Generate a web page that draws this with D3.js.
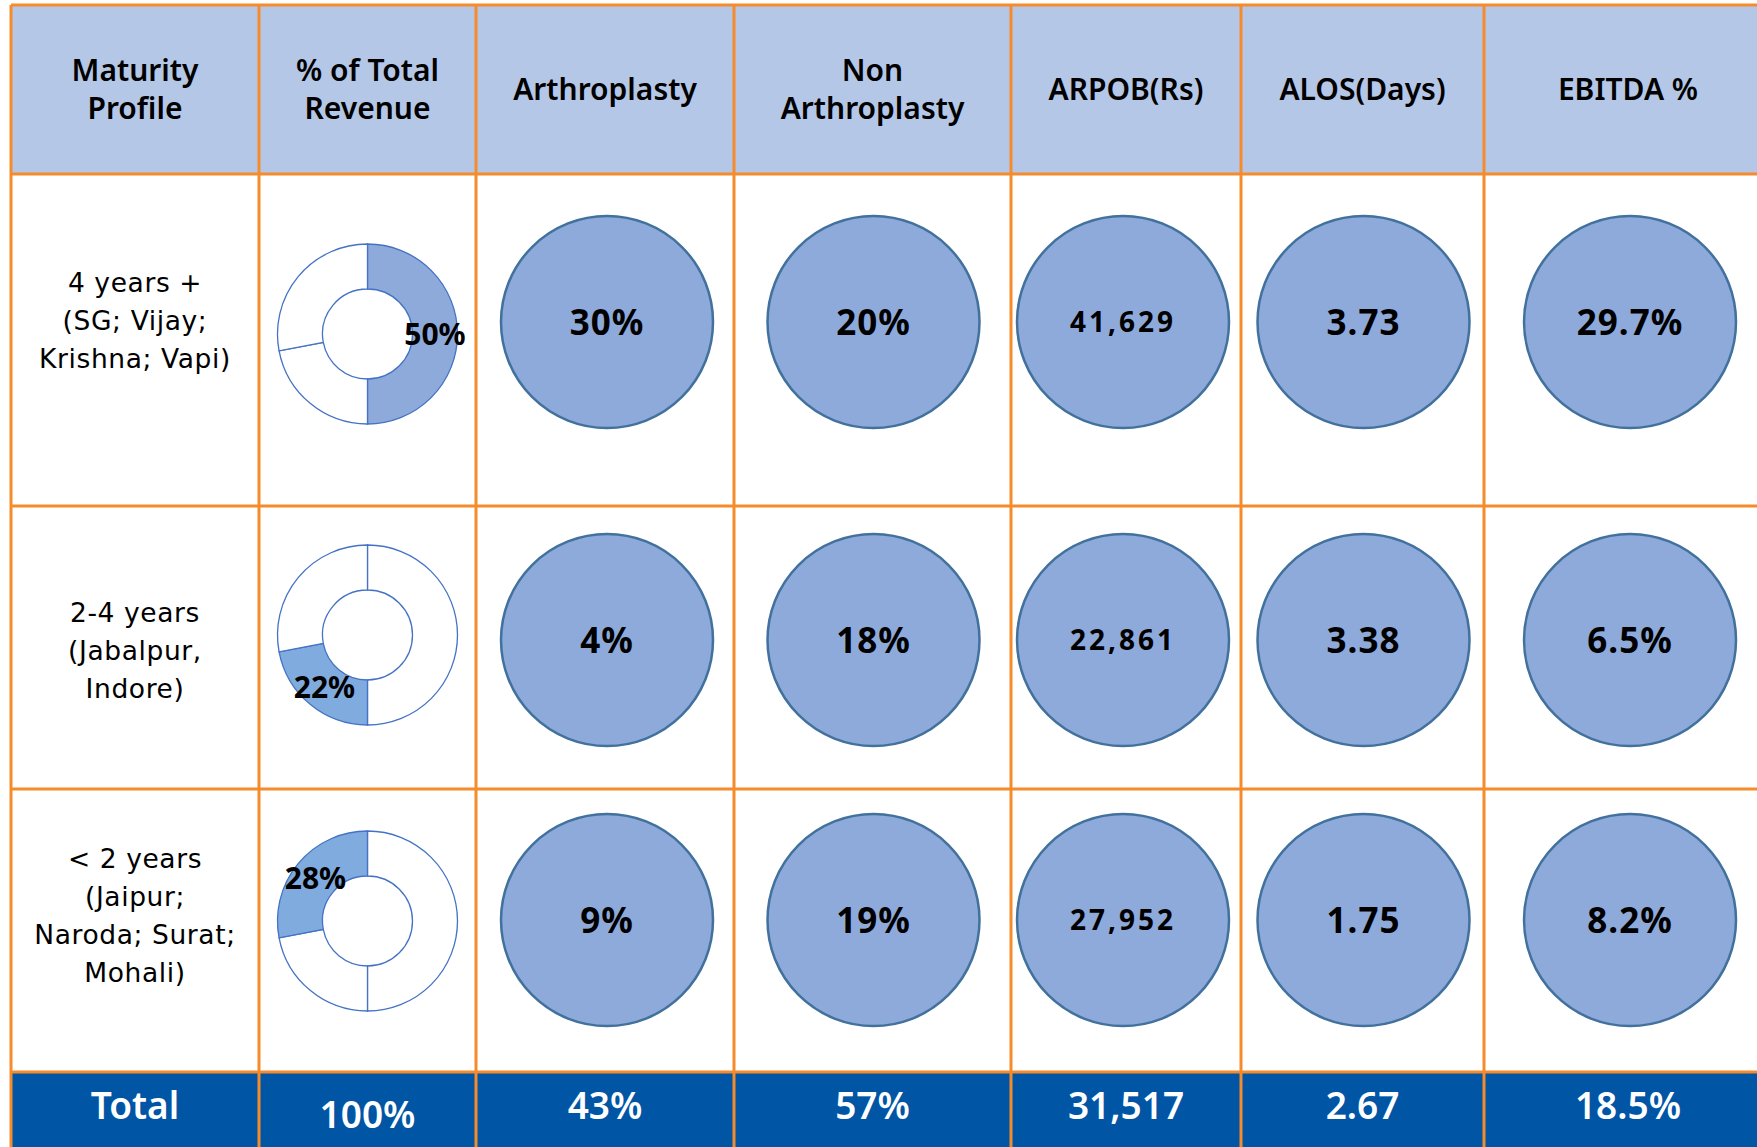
<!DOCTYPE html>
<html>
<head>
<meta charset="utf-8">
<script src="https://cdn.jsdelivr.net/npm/d3@7"></script>
<style>
  html, body { margin: 0; padding: 0; background: #fff; overflow: hidden; }
  svg { display: block; }
</style>
</head>
<body>
<div id="chart"></div>
<script>
// table content
const headers = [["Maturity", "Profile"], ["% of Total", "Revenue"], ["Arthroplasty"],
    ["Non", "Arthroplasty"], ["ARPOB(Rs)"], ["ALOS(Days)"], ["EBITDA %"]];
const profiles = [
    ["4 years +", "(SG; Vijay;", "Krishna; Vapi)"],
    ["2-4 years", "(Jabalpur,", "Indore)"],
    ["< 2 years", "(Jaipur;", "Naroda; Surat;", "Mohali)"]
];
const revenueShare = [50, 22, 28];
const arthroplasty = [30, 4, 9];
const nonArthroplasty = [20, 18, 19];
const arpob = [41629, 22861, 27952];
const alos = [3.73, 3.38, 1.75];
const ebitda = [29.7, 6.5, 8.2];
const totals = ["Total", "100%", "43%", "57%", "31,517", "2.67", "18.5%"];

const width = 1757, height = 1147;
const orange = '#f68b2c';

// layout: column widths and row heights
const colWidths = [248, 217, 258, 277, 230, 243, 288];
const rowHeights = [169, 332, 283, 283, 90];
const colEdges = [11, ...d3.cumsum(colWidths).map(d => d + 11)];
const rowEdges = [5, ...d3.cumsum(rowHeights).map(d => d + 5)];
const cols = d3.range(colWidths.length);

const xLeft = d3.scaleOrdinal(cols, colEdges.slice(0, -1));
const xMid = i => xLeft(i) + colWidths[i] / 2;
const yTop = d3.scaleOrdinal(d3.range(rowHeights.length), rowEdges.slice(0, -1));

// vertical position of marks inside each body row
const markY = [322, 640, 920];
const labelY = [320, 650, 915];
const donutY = [334, 635, 921];
const colShift = [0, 0, 2, 1, -3, 1, 2];

const svg = d3.select('#chart')
    .append('svg')
    .attr('width', width)
    .attr('height', height);

// backgrounds
svg.append('rect')
    .attr('x', colEdges[0]).attr('y', rowEdges[0])
    .attr('width', colEdges[7] - colEdges[0]).attr('height', rowHeights[0])
    .attr('fill', '#b4c7e7');
svg.append('rect')
    .attr('x', colEdges[0]).attr('y', yTop(4))
    .attr('width', colEdges[7] - colEdges[0]).attr('height', rowHeights[4])
    .attr('fill', '#0155a5');

// multi-line text helper, centred on (x, y)
function lines(g, arr, x, y, lh) {
    const t = g.append('text')
        .attr('text-anchor', 'middle');
    arr.forEach((s, i) => {
        t.append('tspan')
            .attr('x', x)
            .attr('y', y + (i - (arr.length - 1) / 2) * lh)
            .attr('dy', '0.36em')
            .text(s);
    });
    return t;
}

// header
const head = svg.append('g')
    .style('font-family', '"Noto Sans", sans-serif')
    .style('font-weight', 600)
    .style('font-size', '30px')
    .attr('fill', '#000');
headers.forEach((h, i) => lines(head, h, xMid(i), (rowEdges[0] + rowEdges[1]) / 2, 38));

// row labels
const lab = svg.append('g')
    .style('font-family', '"DejaVu Sans", sans-serif')
    .style('font-size', '26.5px')
    .style('letter-spacing', '0.6px')
    .attr('fill', '#000');
profiles.forEach((p, r) => lines(lab, p, xMid(0), labelY[r], 38));

// donuts
const pie = d3.pie().sort(null).value(d => d);
const arcs = pie(revenueShare);
const arc = d3.arc().innerRadius(45).outerRadius(90);
const fills = ['#8eaadb', '#7fabdf', '#7fabdf'];

revenueShare.forEach((v, r) => {
    const g = svg.append('g')
        .attr('transform', `translate(${xMid(1)}, ${donutY[r]})`);
    g.selectAll('path')
        .data(arcs)
        .join('path')
        .attr('d', arc)
        .attr('fill', (d, i) => i === r ? fills[r] : '#fff')
        .attr('stroke', '#4472c4')
        .attr('stroke-width', 1.3);
    const c = arc.centroid(arcs[r]);
    g.append('text')
        .attr('x', c[0])
        .attr('y', c[1])
        .attr('dy', '0.36em')
        .attr('text-anchor', 'middle')
        .style('font-family', '"Noto Sans", sans-serif')
        .style('font-weight', 700)
        .style('font-size', '30px')
        .text(v + '%');
});

// bubble columns
const fmtInt = d3.format(',');
const bubbleCols = [
    {col: 2, values: arthroplasty.map(d => d + '%')},
    {col: 3, values: nonArthroplasty.map(d => d + '%')},
    {col: 4, values: arpob.map(fmtInt), small: true},
    {col: 5, values: alos.map(d3.format('.2f'))},
    {col: 6, values: ebitda.map(d => d3.format('.1f')(d) + '%')}
];

bubbleCols.forEach(bc => {
    const nodes = svg.append('g')
        .selectAll('g')
        .data(bc.values)
        .join('g')
        .attr('transform', (d, r) => `translate(${xMid(bc.col) + colShift[bc.col]}, ${markY[r]})`);

    nodes.append('circle')
        .attr('r', 106)
        .attr('fill', '#8eaadb')
        .attr('stroke', '#41719c')
        .attr('stroke-width', 2.5);

    nodes.append('text')
        .attr('text-anchor', 'middle')
        .attr('dy', '0.36em')
        .style('font-family', '"Noto Sans", sans-serif')
        .style('font-weight', 700)
        .style('font-size', bc.small ? '28px' : '35px')
        .style('letter-spacing', bc.small ? '3px' : '1px')
        .text(d => d);
});

// total row
svg.append('g')
    .selectAll('text')
    .data(totals)
    .join('text')
    .attr('x', (d, i) => xMid(i))
    .attr('y', (d, i) => i === 1 ? 1115 : 1106)
    .attr('dy', '0.36em')
    .attr('text-anchor', 'middle')
    .attr('fill', '#fff')
    .style('font-family', '"Noto Sans", sans-serif')
    .style('font-weight', 600)
    .style('font-size', '37px')
    .text(d => d);

// grid lines
const grid = svg.append('g')
    .attr('stroke', orange)
    .attr('stroke-width', 3);
grid.selectAll('.v')
    .data(colEdges)
    .join('line')
    .attr('x1', d => d).attr('x2', d => d)
    .attr('y1', rowEdges[0]).attr('y2', rowEdges[5]);
grid.selectAll('.h')
    .data(rowEdges.slice(0, 5))
    .join('line')
    .attr('x1', colEdges[0]).attr('x2', colEdges[7])
    .attr('y1', d => d).attr('y2', d => d);
</script>
</body>
</html>
